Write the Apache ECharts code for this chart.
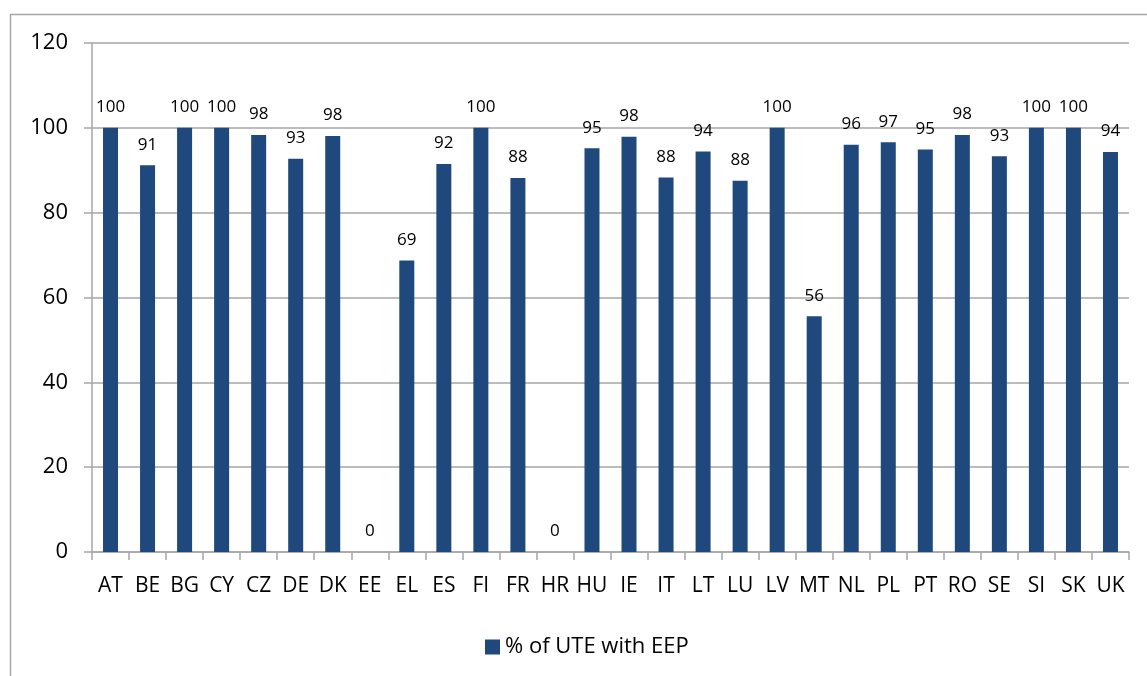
<!DOCTYPE html>
<html>
<head>
<meta charset="utf-8">
<script src="https://cdn.jsdelivr.net/npm/echarts@6/dist/echarts.min.js"></script>
<style>
	html, body { margin: 0; padding: 0; background: #fff; }
	#chart { width: 1147px; height: 676px; }
</style>
</head>
<body>
<div id="chart"></div>
<script>
// 국가 코드
var countries = ['AT', 'BE', 'BG', 'CY', 'CZ', 'DE', 'DK', 'EE', 'EL', 'ES', 'FI', 'FR', 'HR', 'HU',
	'IE', 'IT', 'LT', 'LU', 'LV', 'MT', 'NL', 'PL', 'PT', 'RO', 'SE', 'SI', 'SK', 'UK'];
// % of UTE with EEP
var uteValues = [100, 91.2, 100, 100, 98.3, 92.7, 98.1, 0, 68.7, 91.5, 100, 88.2, 0, 95.2,
	97.9, 88.3, 94.4, 87.5, 100, 55.6, 96, 96.6, 94.9, 98.3, 93.3, 100, 100, 94.3];
// y축 눈금
var yTicks = [0, 20, 40, 60, 80, 100, 120];

var seriesName = '% of UTE with EEP';
var font = '"Open Sans", "Noto Sans", sans-serif';
var axisGray = '#a6a6a6';

var chart = echarts.init(document.getElementById('chart'));

var option = {
	animation: false,
	textStyle: { fontFamily: font },
	graphic: [{
		type: 'rect',
		shape: { x: 10.5, y: 14.5, width: 1160, height: 700 },
		style: { fill: 'none', stroke: axisGray, lineWidth: 1.5 },
		silent: true
	}],
	grid: {
		left: 92,
		right: 18,
		top: 43,
		bottom: 124
	},
	legend: {
		data: [seriesName],
		left: 480,
		top: 631,
		icon: 'rect',
		itemWidth: 15,
		itemHeight: 15,
		itemGap: 4,
		textStyle: { fontSize: 22, color: '#000', fontFamily: font }
	},
	xAxis: {
		type: 'category',
		data: countries,
		boundaryGap: true,
		axisLine: { lineStyle: { color: axisGray, width: 1.5 } },
		axisTick: { show: true, length: 8, alignWithLabel: false, lineStyle: { color: axisGray, width: 1.5 } },
		axisLabel: { color: '#000', fontSize: 21, margin: 24, interval: 0, fontFamily: font }
	},
	yAxis: {
		type: 'value',
		min: yTicks[0],
		max: yTicks[yTicks.length - 1],
		interval: 20,
		axisLine: { show: true, lineStyle: { color: axisGray, width: 1.5 } },
		axisTick: { show: true, length: 8, lineStyle: { color: axisGray, width: 1.5 } },
		splitLine: { show: true, lineStyle: { color: axisGray, width: 1.5 } },
		axisLabel: { color: '#000', fontSize: 22, margin: 24, fontFamily: font }
	},
	series: [{
		name: seriesName,
		type: 'bar',
		data: uteValues,
		barWidth: 15,
		itemStyle: { color: '#1f497d' },
		label: {
			show: true,
			position: 'top',
			distance: 12,
			color: '#000',
			fontSize: 17,
			fontFamily: font,
			formatter: function(p) { return Math.round(p.value); }
		}
	}]
};

chart.setOption(option);
</script>
</body>
</html>
